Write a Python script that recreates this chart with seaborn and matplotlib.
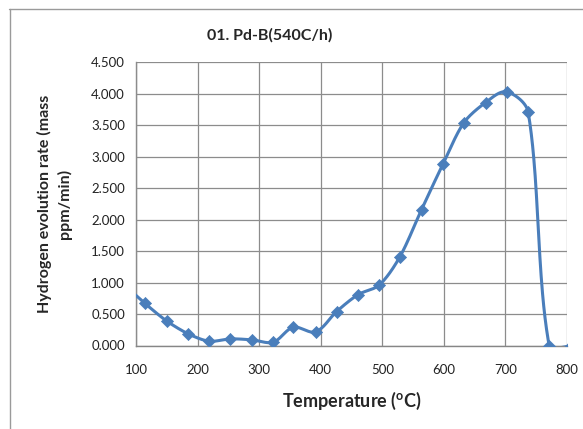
import numpy as np
import pandas as pd
import seaborn as sns
import matplotlib.pyplot as plt

# 온도(°C)와 수소 방출 속도 - 그림에서 읽은 값
temperature = [80, 114.6, 149.8, 184.9, 219.0, 253.0, 287.8, 322.9, 355.4, 391.7,
               425.8, 460.9, 495.0, 528.6, 563.8, 598.9, 632.5, 667.7, 701.8,
               736.9, 771.0, 806.0]
rate = [0.97, 0.668, 0.39, 0.185, 0.068, 0.105, 0.09, 0.053, 0.29, 0.217,
        0.54, 0.81, 0.96, 1.41, 2.16, 2.89, 3.54, 3.86, 4.03,
        3.71, 0.0, -0.01]

df = pd.DataFrame({'T': temperature, 'rate': rate})

# 화면 좌표 기준 비율 (px / 단위)
SX = 431 / 700
SY = 283.2 / 4.5

# Excel 스타일 부드러운 선 - 화면 좌표에서 Bezier 제어점 계산
def smooth(x, y, n=40, k=0.3):
    P = np.column_stack([np.asarray(x, float) * SX, np.asarray(y, float) * SY])
    m = len(P)
    tang = np.zeros_like(P)
    for i in range(m):
        d = P[min(i + 1, m - 1)] - P[max(i - 1, 0)]
        tang[i] = d / np.linalg.norm(d)
    t = np.linspace(0, 1, n)[:, None]
    out = []
    for i in range(m - 1):
        p0, p3 = P[i], P[i + 1]
        L = np.linalg.norm(p3 - p0) * k
        c1 = p0 + tang[i] * L
        c2 = p3 - tang[i + 1] * L
        b = (1 - t) ** 3 * p0 + 3 * (1 - t) ** 2 * t * c1 + 3 * (1 - t) * t ** 2 * c2 + t ** 3 * p3
        out.append(b)
    out = np.vstack(out)
    return out[:, 0] / SX, out[:, 1] / SY

sx, sy = smooth(df['T'], df['rate'])
curve = pd.DataFrame({'T': sx, 'rate': sy})

sns.set_style('white')
plt.rcParams['font.family'] = ['Lato', 'DejaVu Sans']

fig = plt.figure(figsize=(5.83, 4.29), dpi=100)
ax = fig.add_axes([136 / 583, 1 - 345.5 / 429, 431 / 583, 283.2 / 429])

blue = '#4A7EBB'
sns.lineplot(data=curve, x='T', y='rate', ax=ax, color=blue, linewidth=2.2,
             sort=False, estimator=None, clip_on=False)
ax.lines[-1].set_clip_on(True)
sns.scatterplot(data=df, x='T', y='rate', ax=ax, color=blue, marker='D',
                s=38, edgecolor=blue, linewidth=0.5, zorder=5)

ax.set_xlim(100, 800)
ax.set_ylim(0, 4.5)
ax.set_xticks(range(100, 801, 100))
ax.set_yticks(np.arange(0, 4.51, 0.5))
ax.set_yticklabels([f'{v:.3f}' for v in np.arange(0, 4.51, 0.5)])
ax.grid(True, color='#8c8c8c', linewidth=0.9)
ax.set_axisbelow(True)
for s in ['top', 'right']:
    ax.spines[s].set_visible(False)
for s in ['left', 'bottom']:
    ax.spines[s].set_color('#868686')
    ax.spines[s].set_linewidth(1.0)
    ax.spines[s].set_zorder(0.5)
ax.tick_params(axis='both', labelsize=9.5, colors='#222222', length=0, pad=8)
ax.tick_params(axis='x', pad=13)

ax.set_xlabel('Temperature ($^\\mathregular{o}$C)', fontsize=13, fontweight='bold',
              labelpad=10)
ax.set_ylabel('Hydrogen evolution rate (mass\nppm/min)', fontsize=11.5,
              fontweight='bold', labelpad=14, linespacing=1.35)
fig.text(270 / 583, 1 - 35 / 429, '01. Pd-B(540C/h)', ha='center', va='center',
         fontsize=11.5, fontweight='bold')

# 차트 영역 테두리
fig.add_artist(plt.Line2D([9 / 583, 1], [1 - 9 / 429, 1 - 9 / 429], color='#9a9a9a', lw=1))
fig.add_artist(plt.Line2D([10 / 583, 10 / 583], [0, 1 - 9 / 429], color='#9a9a9a', lw=1))

plt.savefig('out.png', dpi=100)
